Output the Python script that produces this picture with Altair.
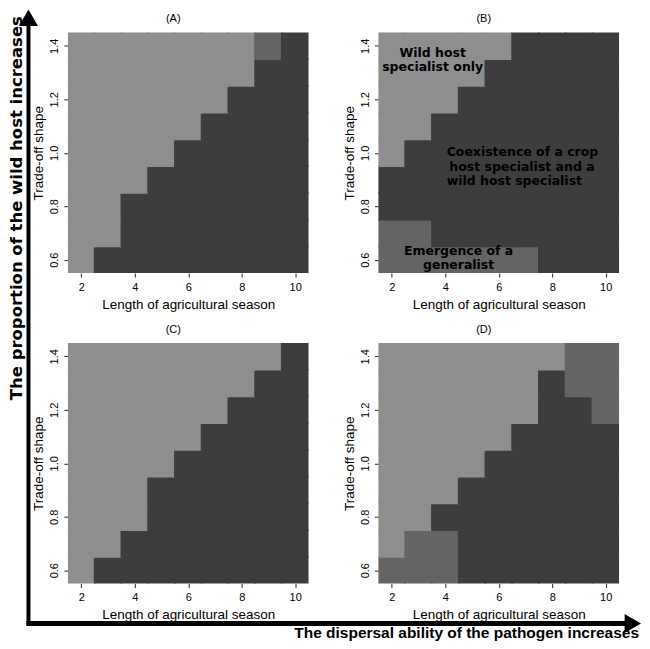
import altair as alt
import pandas as pd

# ---------------- data ----------------
season = [2, 3, 4, 5, 6, 7, 8, 9, 10]
tradeoff = [0.6, 0.7, 0.8, 0.9, 1.0, 1.1, 1.2, 1.3, 1.4]
# one string per trade-off row (0.6 first ... 1.4 last); one letter per season 2..10
# L = wild host specialist only, D = coexistence of crop & wild host specialists, G = generalist
panel_a = ["LDDDDDDDD", "LLDDDDDDD", "LLDDDDDDD", "LLLDDDDDD", "LLLLDDDDD",
           "LLLLLDDDD", "LLLLLLDDD", "LLLLLLLDD", "LLLLLLLGD"]
panel_b = ["GGGGGGDDD", "GGDDDDDDD", "DDDDDDDDD", "DDDDDDDDD", "LDDDDDDDD",
           "LLDDDDDDD", "LLLDDDDDD", "LLLLDDDDD", "LLLLLDDDD"]
panel_c = ["LDDDDDDDD", "LLDDDDDDD", "LLLDDDDDD", "LLLDDDDDD", "LLLLDDDDD",
           "LLLLLDDDD", "LLLLLLDDD", "LLLLLLLDD", "LLLLLLLLD"]
panel_d = ["GGGDDDDDD", "LGGDDDDDD", "LLDDDDDDD", "LLLDDDDDD", "LLLLDDDDD",
           "LLLLLDDDD", "LLLLLLDDG", "LLLLLLDGG", "LLLLLLLGG"]
panel_titles = ["(A)", "(B)", "(C)", "(D)"]
regime_codes = ["L", "D", "G"]
regime_colors = ["#8e8e8e", "#3d3d3d", "#646464"]

x_ticks = [2, 4, 6, 8, 10]
y_ticks = [0.6, 0.8, 1.0, 1.2, 1.4]

# annotation text in panel B (placed in data units)
b_center_text = ["Wild host", "specialist only", "Emergence of a", "generalist"]
b_center_x = [3.53, 3.53, 4.50, 4.50]
b_center_y = [1.373, 1.319, 0.632, 0.579]
b_left_text = ["Coexistence of a crop", "host specialist and a", "wild host specialist"]
b_left_x = [4.054, 4.151, 4.054]
b_left_y = [1.003, 0.9485, 0.8936]

y_arrow_label = "The proportion of the wild host increases"
x_arrow_label = "The dispersal ability of the pathogen increases"

W = 241
H = 241
FONT = "Liberation Sans"
# tiny overlap between neighbouring cells to avoid anti-aliasing seams
OX = 0.03
OY = 0.003


def grid_frame(grid):
    rows = []
    for i, t in enumerate(tradeoff):
        for j, s in enumerate(season):
            rows.append({"season": s, "tradeoff": t, "regime": grid[i][j],
                         "x0": s - 0.5 - OX, "x1": s + 0.5 + OX,
                         "y0": t - 0.05 - OY, "y1": t + 0.05 + OY})
    return pd.DataFrame(rows)


xscale = alt.Scale(domain=[1.5, 10.5], nice=False, zero=False)
yscale = alt.Scale(domain=[0.55, 1.45], nice=False, zero=False)
cscale = alt.Scale(domain=regime_codes, range=regime_colors)
one = alt.Data(values=[{"k": 1}])


def heat(grid):
    df = grid_frame(grid)
    return alt.Chart(df).mark_rect(strokeWidth=0, clip=True).encode(
        x=alt.X("x0:Q", scale=xscale,
                axis=alt.Axis(values=x_ticks, title="Length of agricultural season",
                              titlePadding=5),
        ),
        x2="x1:Q",
        y=alt.Y("y0:Q", scale=yscale,
                axis=alt.Axis(values=y_ticks, format=".1f", title="Trade-off shape",
                              labelAngle=270, labelAlign="center", labelBaseline="bottom",
                              titlePadding=3),
        ),
        y2="y1:Q",
        color=alt.Color("regime:N", scale=cscale, legend=None),
    )


def title_mark(t):
    return alt.Chart(one).mark_text(font=FONT, fontSize=11, color="black",
                                    align="center", baseline="middle").encode(
        x=alt.value(W / 2 - 15), y=alt.value(-13), text=alt.value(t))


# panel A
chart_a = alt.layer(heat(panel_a), title_mark(panel_titles[0])).properties(width=W, height=H)

# panel B with labels
bc = pd.DataFrame({"t": b_center_text, "x": b_center_x, "y": b_center_y})
bl = pd.DataFrame({"t": b_left_text, "x": b_left_x, "y": b_left_y})
text_center = alt.Chart(bc).mark_text(font="DejaVu Sans", fontWeight="bold", fontSize=12.5,
                                      color="black", align="center", baseline="middle").encode(
    x=alt.X("x:Q", scale=xscale), y=alt.Y("y:Q", scale=yscale), text="t:N")
text_left = alt.Chart(bl).mark_text(font="DejaVu Sans", fontWeight="bold", fontSize=12.5,
                                    color="black", align="left", baseline="middle").encode(
    x=alt.X("x:Q", scale=xscale), y=alt.Y("y:Q", scale=yscale), text="t:N")
chart_b = alt.layer(heat(panel_b), text_center, text_left,
                    title_mark(panel_titles[1])).properties(width=W, height=H)

# panel C with the two big arrows (pixel positions relative to panel C)
v_shaft = alt.Chart(one).mark_rule(color="black", strokeWidth=4).encode(
    x=alt.value(-39.5), y=alt.value(283.5), y2=alt.value(-320))
v_head = alt.Chart(one).mark_point(shape="triangle-up", filled=True, size=361, color="black",
                                   opacity=1, strokeWidth=0).encode(
    x=alt.value(-39.5), y=alt.value(-325.8))
h_shaft = alt.Chart(one).mark_rule(color="black", strokeWidth=5).encode(
    y=alt.value(281), x=alt.value(-41.5), x2=alt.value(560))
h_head = alt.Chart(one).mark_point(shape="triangle-right", filled=True, size=361, color="black",
                                   opacity=1, strokeWidth=0).encode(
    x=alt.value(565.8), y=alt.value(281))
v_text = alt.Chart(one).mark_text(font="DejaVu Sans", fontWeight="bold", fontSize=16.5,
                                  angle=270, align="center", baseline="alphabetic",
                                  color="black").encode(
    x=alt.value(-46), y=alt.value(-135), text=alt.value(y_arrow_label))
h_text = alt.Chart(one).mark_text(font=FONT, fontWeight="bold", fontSize=15.5,
                                  align="right", baseline="alphabetic", color="black").encode(
    x=alt.value(572), y=alt.value(295.5), text=alt.value(x_arrow_label))

chart_c = alt.layer(heat(panel_c), title_mark(panel_titles[2]), v_shaft, v_head, h_shaft,
                    h_head, v_text, h_text).properties(width=W, height=H)

chart_d = alt.layer(heat(panel_d), title_mark(panel_titles[3])).properties(width=W, height=H)

chart = alt.concat(chart_a, chart_b, chart_c, chart_d, columns=2, spacing=70,
                   bounds="flush").properties(padding=0).configure_view(
    stroke=None
).configure_axis(
    labelFont=FONT, labelFontSize=11, labelColor="black", labelPadding=4,
    titleFont=FONT, titleFontSize=13.5, titleFontWeight="normal", titleColor="black",
    tickColor="#222222", tickSize=4, domain=False, grid=False,
)

chart.save("out.html", embed_options={"renderer": "svg", "actions": False})
